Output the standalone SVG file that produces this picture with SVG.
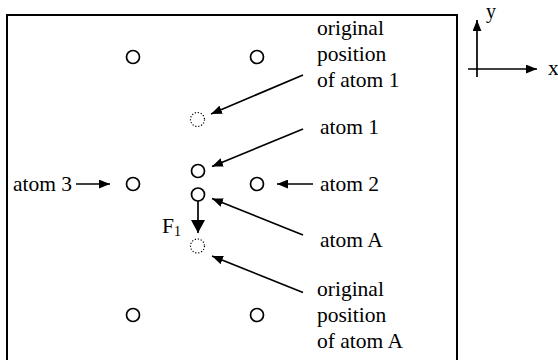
<svg xmlns="http://www.w3.org/2000/svg" width="558" height="360" viewBox="0 0 558 360">
<defs>
<marker id="ah" viewBox="0 0 10 8" refX="10" refY="4" markerWidth="11" markerHeight="9" markerUnits="userSpaceOnUse" orient="auto"><path d="M0,0 L10,4 L0,8 Z" fill="#000"/></marker>
<marker id="ahbig" viewBox="0 0 13 14" refX="13" refY="7" markerWidth="13" markerHeight="14" markerUnits="userSpaceOnUse" orient="auto"><path d="M0,0 L13,7 L0,14 Z" fill="#000"/></marker>
</defs>
<style>
.atom{fill:#fff;stroke:#000;stroke-width:1.7}
.ghost{fill:none;stroke:#000;stroke-width:1.2;stroke-dasharray:1.2 1.8}
.c{stroke:#000;stroke-width:1.7;fill:none}
</style>
<rect x="7" y="15" width="450" height="360" fill="none" stroke="#000" stroke-width="2"/>
<g id="atom-tl"><circle class="atom" cx="133" cy="57" r="6.5"/></g>
<g id="atom-tr"><circle class="atom" cx="257" cy="57" r="6.5"/></g>
<g id="orig-atom1"><circle class="ghost" cx="197.5" cy="119.5" r="7"/></g>
<g id="atom1"><circle class="atom" cx="198" cy="171" r="6.5"/></g>
<g id="atom3"><circle class="atom" cx="133" cy="184" r="6.5"/></g>
<g id="atom2"><circle class="atom" cx="257" cy="184" r="6.5"/></g>
<g id="atomA"><circle class="atom" cx="198" cy="194.5" r="6.5"/></g>
<g id="orig-atomA"><circle class="ghost" cx="197.5" cy="246" r="7"/></g>
<g id="atom-bl"><circle class="atom" cx="133" cy="315" r="6.5"/></g>
<g id="atom-br"><circle class="atom" cx="257" cy="315" r="6.5"/></g>
<g id="connectors">
<line class="c" x1="303" y1="75" x2="211" y2="114" marker-end="url(#ah)"/>
<line class="c" x1="303" y1="129" x2="212" y2="166.5" marker-end="url(#ah)"/>
<line class="c" x1="303" y1="235" x2="212" y2="198.5" marker-end="url(#ah)"/>
<line class="c" x1="303" y1="292.5" x2="212" y2="256" marker-end="url(#ah)"/>
<line class="c" x1="76" y1="184" x2="110" y2="184" marker-end="url(#ah)"/>
<line class="c" x1="313" y1="184" x2="277" y2="184" marker-end="url(#ah)"/>
<line class="c" x1="198" y1="201" x2="198" y2="233" marker-end="url(#ahbig)"/>
<line class="c" x1="477" y1="77" x2="477" y2="20" marker-end="url(#ah)"/>
<line class="c" x1="468" y1="69" x2="537" y2="69" marker-end="url(#ah)"/>
</g>
<g id="labels" font-family="'Liberation Serif', 'Times New Roman', 'DejaVu Serif', serif" font-size="21.5" fill="#000">
<text x="317" y="35">original</text>
<text x="317" y="61">position</text>
<text x="317" y="87">of atom 1</text>
<text x="320" y="134">atom 1</text>
<text x="320" y="191">atom 2</text>
<text x="320" y="247">atom A</text>
<text x="317" y="296">original</text>
<text x="317" y="322">position</text>
<text x="317" y="348">of atom A</text>
<text x="13" y="191">atom 3</text>
<text x="162" y="232.5">F<tspan font-size="14" dy="3">1</tspan></text>
<text x="486" y="18" font-size="20">y</text>
<text x="548" y="75">x</text>
</g>
</svg>
